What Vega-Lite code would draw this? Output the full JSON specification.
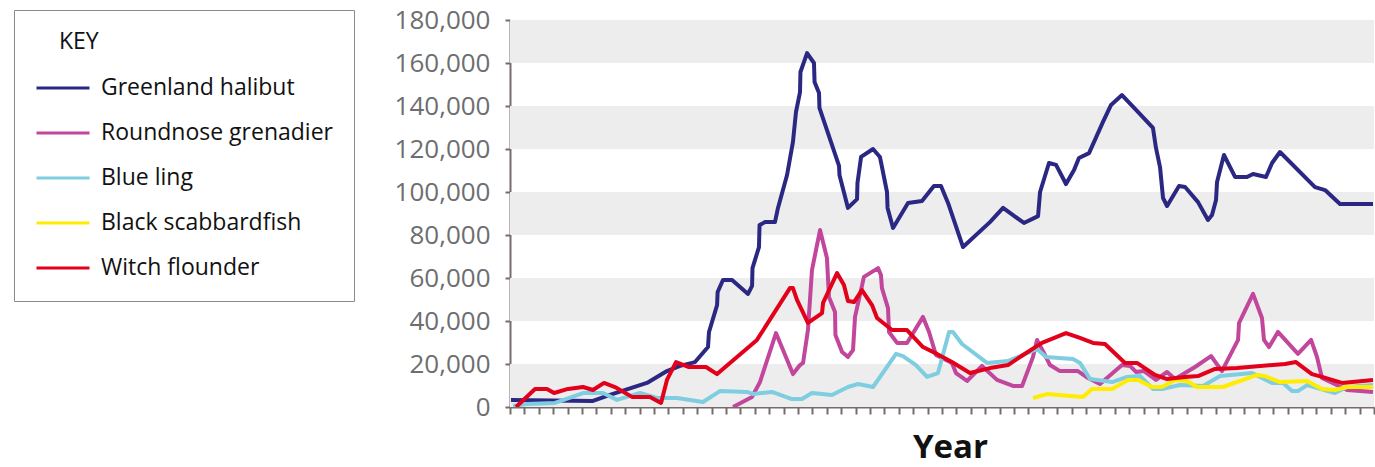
{
  "$schema": "https://vega.github.io/schema/vega-lite/v6.json",
  "autosize": {"type": "none"},
  "padding": {"left": 510, "top": 20, "right": 1, "bottom": 60},
  "width": 864,
  "height": 387,
  "background": "white",
  "config": {
    "view": {"stroke": null},
    "font": "Open Sans"
  },
  "datasets": {
    "bands": [
      {"lo": 0, "hi": 20000},
      {"lo": 40000, "hi": 60000},
      {"lo": 80000, "hi": 100000},
      {"lo": 120000, "hi": 140000},
      {"lo": 160000, "hi": 180000}
    ],
    "catches": [
      {"species": "Greenland halibut", "year": 1950.07, "catch": 3300},
      {"species": "Greenland halibut", "year": 1955.76, "catch": 2800},
      {"species": "Greenland halibut", "year": 1956.94, "catch": 5600},
      {"species": "Greenland halibut", "year": 1959.51, "catch": 11200},
      {"species": "Greenland halibut", "year": 1960.9, "catch": 16700},
      {"species": "Greenland halibut", "year": 1961.81, "catch": 19100},
      {"species": "Greenland halibut", "year": 1962.85, "catch": 20900},
      {"species": "Greenland halibut", "year": 1963.75, "catch": 27900},
      {"species": "Greenland halibut", "year": 1963.82, "catch": 34900},
      {"species": "Greenland halibut", "year": 1964.38, "catch": 47400},
      {"species": "Greenland halibut", "year": 1964.42, "catch": 53500},
      {"species": "Greenland halibut", "year": 1964.79, "catch": 59100},
      {"species": "Greenland halibut", "year": 1965.42, "catch": 59100},
      {"species": "Greenland halibut", "year": 1966.53, "catch": 52600},
      {"species": "Greenland halibut", "year": 1966.81, "catch": 56300},
      {"species": "Greenland halibut", "year": 1966.84, "catch": 64600},
      {"species": "Greenland halibut", "year": 1967.29, "catch": 74400},
      {"species": "Greenland halibut", "year": 1967.33, "catch": 84600},
      {"species": "Greenland halibut", "year": 1967.71, "catch": 86000},
      {"species": "Greenland halibut", "year": 1968.4, "catch": 86000},
      {"species": "Greenland halibut", "year": 1968.61, "catch": 92600},
      {"species": "Greenland halibut", "year": 1969.24, "catch": 107900},
      {"species": "Greenland halibut", "year": 1969.65, "catch": 123300},
      {"species": "Greenland halibut", "year": 1969.86, "catch": 137200},
      {"species": "Greenland halibut", "year": 1970.14, "catch": 146500},
      {"species": "Greenland halibut", "year": 1970.17, "catch": 155800},
      {"species": "Greenland halibut", "year": 1970.63, "catch": 164600},
      {"species": "Greenland halibut", "year": 1971.11, "catch": 160000},
      {"species": "Greenland halibut", "year": 1971.15, "catch": 151200},
      {"species": "Greenland halibut", "year": 1971.46, "catch": 146000},
      {"species": "Greenland halibut", "year": 1971.49, "catch": 139100},
      {"species": "Greenland halibut", "year": 1972.85, "catch": 112100},
      {"species": "Greenland halibut", "year": 1972.88, "catch": 107900},
      {"species": "Greenland halibut", "year": 1973.47, "catch": 92600},
      {"species": "Greenland halibut", "year": 1974.1, "catch": 96700},
      {"species": "Greenland halibut", "year": 1974.13, "catch": 104200},
      {"species": "Greenland halibut", "year": 1974.38, "catch": 116300},
      {"species": "Greenland halibut", "year": 1975.21, "catch": 120000},
      {"species": "Greenland halibut", "year": 1975.69, "catch": 116300},
      {"species": "Greenland halibut", "year": 1976.18, "catch": 100000},
      {"species": "Greenland halibut", "year": 1976.22, "catch": 92600},
      {"species": "Greenland halibut", "year": 1976.6, "catch": 83300},
      {"species": "Greenland halibut", "year": 1977.64, "catch": 94900},
      {"species": "Greenland halibut", "year": 1978.61, "catch": 95800},
      {"species": "Greenland halibut", "year": 1979.44, "catch": 102800},
      {"species": "Greenland halibut", "year": 1979.93, "catch": 102800},
      {"species": "Greenland halibut", "year": 1980.42, "catch": 94900},
      {"species": "Greenland halibut", "year": 1981.46, "catch": 74400},
      {"species": "Greenland halibut", "year": 1983.33, "catch": 86000},
      {"species": "Greenland halibut", "year": 1984.24, "catch": 92600},
      {"species": "Greenland halibut", "year": 1985.69, "catch": 85600},
      {"species": "Greenland halibut", "year": 1986.67, "catch": 88800},
      {"species": "Greenland halibut", "year": 1986.81, "catch": 100000},
      {"species": "Greenland halibut", "year": 1987.43, "catch": 113500},
      {"species": "Greenland halibut", "year": 1987.92, "catch": 112600},
      {"species": "Greenland halibut", "year": 1988.61, "catch": 103700},
      {"species": "Greenland halibut", "year": 1989.17, "catch": 110200},
      {"species": "Greenland halibut", "year": 1989.51, "catch": 115800},
      {"species": "Greenland halibut", "year": 1990.21, "catch": 118100},
      {"species": "Greenland halibut", "year": 1991.18, "catch": 132600},
      {"species": "Greenland halibut", "year": 1991.74, "catch": 140500},
      {"species": "Greenland halibut", "year": 1992.5, "catch": 145100},
      {"species": "Greenland halibut", "year": 1993.54, "catch": 137700},
      {"species": "Greenland halibut", "year": 1994.65, "catch": 129800},
      {"species": "Greenland halibut", "year": 1994.86, "catch": 120500},
      {"species": "Greenland halibut", "year": 1995.14, "catch": 111600},
      {"species": "Greenland halibut", "year": 1995.35, "catch": 97200},
      {"species": "Greenland halibut", "year": 1995.63, "catch": 93500},
      {"species": "Greenland halibut", "year": 1996.46, "catch": 102800},
      {"species": "Greenland halibut", "year": 1996.88, "catch": 102300},
      {"species": "Greenland halibut", "year": 1997.78, "catch": 95300},
      {"species": "Greenland halibut", "year": 1998.47, "catch": 87000},
      {"species": "Greenland halibut", "year": 1998.75, "catch": 89300},
      {"species": "Greenland halibut", "year": 1999.03, "catch": 96300},
      {"species": "Greenland halibut", "year": 1999.1, "catch": 104600},
      {"species": "Greenland halibut", "year": 1999.58, "catch": 117200},
      {"species": "Greenland halibut", "year": 2000.35, "catch": 107000},
      {"species": "Greenland halibut", "year": 2001.18, "catch": 107000},
      {"species": "Greenland halibut", "year": 2001.6, "catch": 108400},
      {"species": "Greenland halibut", "year": 2002.5, "catch": 107000},
      {"species": "Greenland halibut", "year": 2002.92, "catch": 113500},
      {"species": "Greenland halibut", "year": 2003.47, "catch": 118600},
      {"species": "Greenland halibut", "year": 2005.9, "catch": 102300},
      {"species": "Greenland halibut", "year": 2006.6, "catch": 100900},
      {"species": "Greenland halibut", "year": 2007.64, "catch": 94400},
      {"species": "Greenland halibut", "year": 2009.93, "catch": 94400},

      {"species": "Roundnose grenadier", "year": 1965.49, "catch": 0},
      {"species": "Roundnose grenadier", "year": 1966.81, "catch": 4700},
      {"species": "Roundnose grenadier", "year": 1967.36, "catch": 11600},
      {"species": "Roundnose grenadier", "year": 1968.47, "catch": 34400},
      {"species": "Roundnose grenadier", "year": 1969.65, "catch": 15300},
      {"species": "Roundnose grenadier", "year": 1970.14, "catch": 19500},
      {"species": "Roundnose grenadier", "year": 1970.35, "catch": 20500},
      {"species": "Roundnose grenadier", "year": 1970.69, "catch": 35800},
      {"species": "Roundnose grenadier", "year": 1970.97, "catch": 63700},
      {"species": "Roundnose grenadier", "year": 1971.53, "catch": 82300},
      {"species": "Roundnose grenadier", "year": 1972.01, "catch": 69300},
      {"species": "Roundnose grenadier", "year": 1972.15, "catch": 51200},
      {"species": "Roundnose grenadier", "year": 1972.57, "catch": 44200},
      {"species": "Roundnose grenadier", "year": 1972.6, "catch": 33500},
      {"species": "Roundnose grenadier", "year": 1973.06, "catch": 25600},
      {"species": "Roundnose grenadier", "year": 1973.47, "catch": 23300},
      {"species": "Roundnose grenadier", "year": 1973.82, "catch": 26500},
      {"species": "Roundnose grenadier", "year": 1973.96, "catch": 41900},
      {"species": "Roundnose grenadier", "year": 1974.58, "catch": 60500},
      {"species": "Roundnose grenadier", "year": 1975.56, "catch": 64600},
      {"species": "Roundnose grenadier", "year": 1975.76, "catch": 61400},
      {"species": "Roundnose grenadier", "year": 1975.83, "catch": 55300},
      {"species": "Roundnose grenadier", "year": 1976.25, "catch": 46000},
      {"species": "Roundnose grenadier", "year": 1976.32, "catch": 34900},
      {"species": "Roundnose grenadier", "year": 1976.88, "catch": 29800},
      {"species": "Roundnose grenadier", "year": 1977.57, "catch": 29800},
      {"species": "Roundnose grenadier", "year": 1978.68, "catch": 41900},
      {"species": "Roundnose grenadier", "year": 1979.1, "catch": 34900},
      {"species": "Roundnose grenadier", "year": 1979.58, "catch": 24200},
      {"species": "Roundnose grenadier", "year": 1980.69, "catch": 20500},
      {"species": "Roundnose grenadier", "year": 1980.97, "catch": 15800},
      {"species": "Roundnose grenadier", "year": 1981.74, "catch": 12100},
      {"species": "Roundnose grenadier", "year": 1982.78, "catch": 19100},
      {"species": "Roundnose grenadier", "year": 1983.82, "catch": 12600},
      {"species": "Roundnose grenadier", "year": 1984.93, "catch": 9800},
      {"species": "Roundnose grenadier", "year": 1985.56, "catch": 9800},
      {"species": "Roundnose grenadier", "year": 1986.32, "catch": 23300},
      {"species": "Roundnose grenadier", "year": 1986.6, "catch": 31200},
      {"species": "Roundnose grenadier", "year": 1987.08, "catch": 25100},
      {"species": "Roundnose grenadier", "year": 1987.5, "catch": 19500},
      {"species": "Roundnose grenadier", "year": 1988.19, "catch": 16700},
      {"species": "Roundnose grenadier", "year": 1989.44, "catch": 16700},
      {"species": "Roundnose grenadier", "year": 1990.14, "catch": 13500},
      {"species": "Roundnose grenadier", "year": 1990.97, "catch": 10700},
      {"species": "Roundnose grenadier", "year": 1992.5, "catch": 19500},
      {"species": "Roundnose grenadier", "year": 1993.06, "catch": 19100},
      {"species": "Roundnose grenadier", "year": 1993.47, "catch": 16300},
      {"species": "Roundnose grenadier", "year": 1994.03, "catch": 16700},
      {"species": "Roundnose grenadier", "year": 1994.86, "catch": 12600},
      {"species": "Roundnose grenadier", "year": 1995.63, "catch": 16300},
      {"species": "Roundnose grenadier", "year": 1996.18, "catch": 13000},
      {"species": "Roundnose grenadier", "year": 1997.57, "catch": 18600},
      {"species": "Roundnose grenadier", "year": 1998.68, "catch": 23700},
      {"species": "Roundnose grenadier", "year": 1999.44, "catch": 16700},
      {"species": "Roundnose grenadier", "year": 2000.56, "catch": 31200},
      {"species": "Roundnose grenadier", "year": 2000.63, "catch": 39100},
      {"species": "Roundnose grenadier", "year": 2001.6, "catch": 52600},
      {"species": "Roundnose grenadier", "year": 2002.22, "catch": 41400},
      {"species": "Roundnose grenadier", "year": 2002.36, "catch": 31200},
      {"species": "Roundnose grenadier", "year": 2002.71, "catch": 27900},
      {"species": "Roundnose grenadier", "year": 2003.33, "catch": 34900},
      {"species": "Roundnose grenadier", "year": 2004.72, "catch": 24700},
      {"species": "Roundnose grenadier", "year": 2005.63, "catch": 31200},
      {"species": "Roundnose grenadier", "year": 2006.04, "catch": 23300},
      {"species": "Roundnose grenadier", "year": 2006.39, "catch": 13500},
      {"species": "Roundnose grenadier", "year": 2008.13, "catch": 7900},
      {"species": "Roundnose grenadier", "year": 2009.93, "catch": 7000},

      {"species": "Blue ling", "year": 1950.21, "catch": 500},
      {"species": "Blue ling", "year": 1951.18, "catch": 1400},
      {"species": "Blue ling", "year": 1953.13, "catch": 1900},
      {"species": "Blue ling", "year": 1955.07, "catch": 6500},
      {"species": "Blue ling", "year": 1956.46, "catch": 6500},
      {"species": "Blue ling", "year": 1957.43, "catch": 3300},
      {"species": "Blue ling", "year": 1959.03, "catch": 6500},
      {"species": "Blue ling", "year": 1960.21, "catch": 4200},
      {"species": "Blue ling", "year": 1961.6, "catch": 4200},
      {"species": "Blue ling", "year": 1963.4, "catch": 2300},
      {"species": "Blue ling", "year": 1964.58, "catch": 7400},
      {"species": "Blue ling", "year": 1966.46, "catch": 7000},
      {"species": "Blue ling", "year": 1966.88, "catch": 6000},
      {"species": "Blue ling", "year": 1968.19, "catch": 7000},
      {"species": "Blue ling", "year": 1969.58, "catch": 3700},
      {"species": "Blue ling", "year": 1970.28, "catch": 3700},
      {"species": "Blue ling", "year": 1970.97, "catch": 6500},
      {"species": "Blue ling", "year": 1972.36, "catch": 5600},
      {"species": "Blue ling", "year": 1973.47, "catch": 9300},
      {"species": "Blue ling", "year": 1974.17, "catch": 10700},
      {"species": "Blue ling", "year": 1975.21, "catch": 9300},
      {"species": "Blue ling", "year": 1976.81, "catch": 24700},
      {"species": "Blue ling", "year": 1977.29, "catch": 23700},
      {"species": "Blue ling", "year": 1978.19, "catch": 19500},
      {"species": "Blue ling", "year": 1978.96, "catch": 14000},
      {"species": "Blue ling", "year": 1979.72, "catch": 15800},
      {"species": "Blue ling", "year": 1980.49, "catch": 34900},
      {"species": "Blue ling", "year": 1980.76, "catch": 34900},
      {"species": "Blue ling", "year": 1981.39, "catch": 29300},
      {"species": "Blue ling", "year": 1983.13, "catch": 20500},
      {"species": "Blue ling", "year": 1984.58, "catch": 21400},
      {"species": "Blue ling", "year": 1985.63, "catch": 24200},
      {"species": "Blue ling", "year": 1986.6, "catch": 27000},
      {"species": "Blue ling", "year": 1987.22, "catch": 23300},
      {"species": "Blue ling", "year": 1989.1, "catch": 22300},
      {"species": "Blue ling", "year": 1989.58, "catch": 20500},
      {"species": "Blue ling", "year": 1990.28, "catch": 13000},
      {"species": "Blue ling", "year": 1991.81, "catch": 11600},
      {"species": "Blue ling", "year": 1992.85, "catch": 14000},
      {"species": "Blue ling", "year": 1993.75, "catch": 14400},
      {"species": "Blue ling", "year": 1994.65, "catch": 8400},
      {"species": "Blue ling", "year": 1995.28, "catch": 8400},
      {"species": "Blue ling", "year": 1996.53, "catch": 10200},
      {"species": "Blue ling", "year": 1998.13, "catch": 9800},
      {"species": "Blue ling", "year": 1999.31, "catch": 14400},
      {"species": "Blue ling", "year": 2001.53, "catch": 15800},
      {"species": "Blue ling", "year": 2002.08, "catch": 14000},
      {"species": "Blue ling", "year": 2002.92, "catch": 11200},
      {"species": "Blue ling", "year": 2003.68, "catch": 11200},
      {"species": "Blue ling", "year": 2004.31, "catch": 7400},
      {"species": "Blue ling", "year": 2004.72, "catch": 7400},
      {"species": "Blue ling", "year": 2005.35, "catch": 10200},
      {"species": "Blue ling", "year": 2006.25, "catch": 8400},
      {"species": "Blue ling", "year": 2007.29, "catch": 6500},
      {"species": "Blue ling", "year": 2008.13, "catch": 9300},
      {"species": "Blue ling", "year": 2009.93, "catch": 10200},

      {"species": "Black scabbardfish", "year": 1986.32, "catch": 4200},
      {"species": "Black scabbardfish", "year": 1987.29, "catch": 6000},
      {"species": "Black scabbardfish", "year": 1989.79, "catch": 4700},
      {"species": "Black scabbardfish", "year": 1990.42, "catch": 8400},
      {"species": "Black scabbardfish", "year": 1991.81, "catch": 8400},
      {"species": "Black scabbardfish", "year": 1992.92, "catch": 12600},
      {"species": "Black scabbardfish", "year": 1993.61, "catch": 12600},
      {"species": "Black scabbardfish", "year": 1994.58, "catch": 9300},
      {"species": "Black scabbardfish", "year": 1995.28, "catch": 9300},
      {"species": "Black scabbardfish", "year": 1996.18, "catch": 12600},
      {"species": "Black scabbardfish", "year": 1997.01, "catch": 12100},
      {"species": "Black scabbardfish", "year": 1997.71, "catch": 9300},
      {"species": "Black scabbardfish", "year": 1999.51, "catch": 9300},
      {"species": "Black scabbardfish", "year": 2001.88, "catch": 14900},
      {"species": "Black scabbardfish", "year": 2002.43, "catch": 14400},
      {"species": "Black scabbardfish", "year": 2003.47, "catch": 11600},
      {"species": "Black scabbardfish", "year": 2005.35, "catch": 12100},
      {"species": "Black scabbardfish", "year": 2006.39, "catch": 8400},
      {"species": "Black scabbardfish", "year": 2007.29, "catch": 7900},
      {"species": "Black scabbardfish", "year": 2008.13, "catch": 9300},
      {"species": "Black scabbardfish", "year": 2009.93, "catch": 9300},

      {"species": "Witch flounder", "year": 1950.42, "catch": 0},
      {"species": "Witch flounder", "year": 1951.74, "catch": 8400},
      {"species": "Witch flounder", "year": 1952.57, "catch": 8400},
      {"species": "Witch flounder", "year": 1953.06, "catch": 6500},
      {"species": "Witch flounder", "year": 1954.03, "catch": 8400},
      {"species": "Witch flounder", "year": 1955.07, "catch": 9300},
      {"species": "Witch flounder", "year": 1955.76, "catch": 7900},
      {"species": "Witch flounder", "year": 1956.53, "catch": 11200},
      {"species": "Witch flounder", "year": 1957.29, "catch": 9300},
      {"species": "Witch flounder", "year": 1958.47, "catch": 4700},
      {"species": "Witch flounder", "year": 1959.72, "catch": 4700},
      {"species": "Witch flounder", "year": 1960.49, "catch": 1900},
      {"species": "Witch flounder", "year": 1960.9, "catch": 12600},
      {"species": "Witch flounder", "year": 1961.53, "catch": 20900},
      {"species": "Witch flounder", "year": 1962.43, "catch": 18600},
      {"species": "Witch flounder", "year": 1963.61, "catch": 18600},
      {"species": "Witch flounder", "year": 1964.38, "catch": 15300},
      {"species": "Witch flounder", "year": 1967.15, "catch": 31200},
      {"species": "Witch flounder", "year": 1969.44, "catch": 55300},
      {"species": "Witch flounder", "year": 1969.65, "catch": 55300},
      {"species": "Witch flounder", "year": 1969.93, "catch": 49800},
      {"species": "Witch flounder", "year": 1970.69, "catch": 39100},
      {"species": "Witch flounder", "year": 1971.67, "catch": 43700},
      {"species": "Witch flounder", "year": 1971.74, "catch": 48400},
      {"species": "Witch flounder", "year": 1972.71, "catch": 62300},
      {"species": "Witch flounder", "year": 1973.19, "catch": 56700},
      {"species": "Witch flounder", "year": 1973.47, "catch": 49300},
      {"species": "Witch flounder", "year": 1973.89, "catch": 48800},
      {"species": "Witch flounder", "year": 1974.44, "catch": 54400},
      {"species": "Witch flounder", "year": 1975.14, "catch": 47400},
      {"species": "Witch flounder", "year": 1975.49, "catch": 41400},
      {"species": "Witch flounder", "year": 1976.53, "catch": 35800},
      {"species": "Witch flounder", "year": 1977.57, "catch": 35800},
      {"species": "Witch flounder", "year": 1978.68, "catch": 27900},
      {"species": "Witch flounder", "year": 1979.65, "catch": 24700},
      {"species": "Witch flounder", "year": 1980.69, "catch": 20900},
      {"species": "Witch flounder", "year": 1981.94, "catch": 15800},
      {"species": "Witch flounder", "year": 1983.33, "catch": 18100},
      {"species": "Witch flounder", "year": 1984.58, "catch": 19500},
      {"species": "Witch flounder", "year": 1985.63, "catch": 24200},
      {"species": "Witch flounder", "year": 1986.94, "catch": 29800},
      {"species": "Witch flounder", "year": 1988.61, "catch": 34400},
      {"species": "Witch flounder", "year": 1989.58, "catch": 32100},
      {"species": "Witch flounder", "year": 1990.49, "catch": 29800},
      {"species": "Witch flounder", "year": 1991.32, "catch": 29300},
      {"species": "Witch flounder", "year": 1992.71, "catch": 20500},
      {"species": "Witch flounder", "year": 1993.54, "catch": 20500},
      {"species": "Witch flounder", "year": 1994.79, "catch": 14900},
      {"species": "Witch flounder", "year": 1995.63, "catch": 13000},
      {"species": "Witch flounder", "year": 1996.88, "catch": 14000},
      {"species": "Witch flounder", "year": 1997.78, "catch": 14400},
      {"species": "Witch flounder", "year": 1998.96, "catch": 17700},
      {"species": "Witch flounder", "year": 2000.49, "catch": 18100},
      {"species": "Witch flounder", "year": 2003.82, "catch": 20000},
      {"species": "Witch flounder", "year": 2004.58, "catch": 20900},
      {"species": "Witch flounder", "year": 2005.69, "catch": 15300},
      {"species": "Witch flounder", "year": 2006.39, "catch": 14000},
      {"species": "Witch flounder", "year": 2007.78, "catch": 11200},
      {"species": "Witch flounder", "year": 2009.93, "catch": 12600}
    ]
  },
  "layer": [
    {
      "data": {"name": "bands"},
      "mark": {"type": "rect", "color": "#ededed"},
      "encoding": {
        "y": {"field": "lo", "type": "quantitative", "scale": {"domain": [0, 180000], "nice": false}},
        "y2": {"field": "hi"}
      }
    },
    {
      "data": {"name": "catches"},
      "mark": {"type": "line", "strokeWidth": 4, "strokeJoin": "round", "clip": true},
      "encoding": {
        "x": {
          "field": "year",
          "type": "quantitative",
          "scale": {"domain": [1950, 2010], "nice": false, "zero": false},
          "axis": {
            "values": [1950,1951,1952,1953,1954,1955,1956,1957,1958,1959,1960,1961,1962,1963,1964,1965,1966,1967,1968,1969,1970,1971,1972,1973,1974,1975,1976,1977,1978,1979,1980,1981,1982,1983,1984,1985,1986,1987,1988,1989,1990,1991,1992,1993,1994,1995,1996,1997,1998,1999,2000,2001,2002,2003,2004,2005,2006,2007,2008,2009,2010],
            "labels": false,
            "grid": false,
            "title": "Year",
            "titleFont": "Open Sans",
            "titleFontSize": 33,
            "titleFontWeight": "bold",
            "titleColor": "#111111",
            "titleBaseline": "alphabetic",
            "titleX": 440,
            "titleY": 50,
            "domainColor": "#766c6c",
            "domainWidth": 2,
            "tickColor": "#766c6c",
            "tickWidth": 2,
            "tickSize": 7
          }
        },
        "y": {
          "field": "catch",
          "type": "quantitative",
          "scale": {"domain": [0, 180000], "nice": false},
          "axis": {
            "values": [0, 20000, 40000, 60000, 80000, 100000, 120000, 140000, 160000, 180000],
            "format": ",.0f",
            "grid": false,
            "title": null,
            "labelFont": "Open Sans",
            "labelFontSize": 26,
            "labelColor": "#6d6e71",
            "labelPadding": 15,
            "domainColor": "#766c6c",
            "domainWidth": 2,
            "tickColor": "#766c6c",
            "tickWidth": 2,
            "tickSize": 5
          }
        },
        "color": {
          "field": "species",
          "type": "nominal",
          "scale": {
            "domain": ["Greenland halibut", "Roundnose grenadier", "Blue ling", "Black scabbardfish", "Witch flounder"],
            "range": ["#2b2884", "#c2479c", "#7fcde0", "#ffec00", "#e2001a"]
          },
          "legend": {
            "orient": "none",
            "legendX": -496,
            "legendY": -10,
            "title": "\u200b\u00a0\u00a0\u00a0\u00a0KEY",
            "titleFont": "Open Sans",
            "titleFontSize": 23,
            "titleFontWeight": "normal",
            "titleColor": "#111111",
            "titlePadding": 22,
            "labelFont": "Open Sans",
            "labelFontSize": 23,
            "labelColor": "#111111",
            "labelOffset": 10,
            "labelLimit": 400,
            "symbolType": "stroke",
            "symbolSize": 2809,
            "symbolStrokeWidth": 3,
            "clipHeight": 24,
            "rowPadding": 21,
            "padding": 21,
            "strokeColor": "#8a8a8a",
            "fillColor": "white"
          }
        }
      }
    }
  ]
}
